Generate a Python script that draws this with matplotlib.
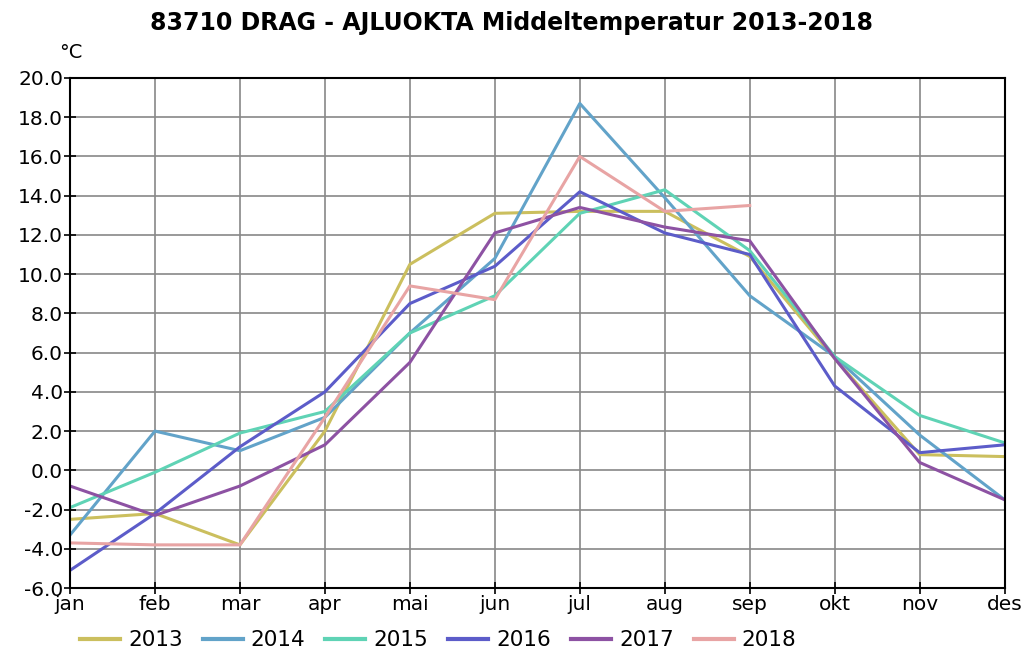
import matplotlib
matplotlib.use("Agg")
import matplotlib.pyplot as plt
from matplotlib.ticker import FormatStrFormatter

months = ['jan', 'feb', 'mar', 'apr', 'mai', 'jun', 'jul', 'aug', 'sep', 'okt', 'nov', 'des']

t2013 = [-2.5, -2.2, -3.8, 2.0, 10.5, 13.1, 13.2, 13.2, 10.9, 5.7, 0.8, 0.7]
t2014 = [-3.3, 2.0, 1.0, 2.7, 7.0, 10.8, 18.7, 13.9, 8.9, 5.8, 1.8, -1.5]
t2015 = [-1.9, -0.1, 1.9, 3.0, 7.0, 8.9, 13.1, 14.3, 11.2, 5.8, 2.8, 1.4]
t2016 = [-5.1, -2.2, 1.2, 4.0, 8.5, 10.4, 14.2, 12.1, 11.0, 4.3, 0.9, 1.3]
t2017 = [-0.8, -2.3, -0.8, 1.3, 5.5, 12.1, 13.4, 12.4, 11.7, 5.7, 0.4, -1.5]
t2018 = [-3.7, -3.8, -3.8, 2.7, 9.4, 8.7, 16.0, 13.2, 13.5]

series = [
    ('2013', t2013, '#cbbf5e'),
    ('2014', t2014, '#62a3c9'),
    ('2015', t2015, '#5fd3b5'),
    ('2016', t2016, '#5c5cc9'),
    ('2017', t2017, '#8d52a3'),
    ('2018', t2018, '#e8a4a4'),
]

fig = plt.figure(figsize=(10.22, 6.53), dpi=100)
ax = fig.add_axes([0.0685, 0.0995, 0.9145, 0.7811])

for label, vals, color in series:
    ax.plot(range(len(vals)), vals, color=color, linewidth=2.2, label=label)

ax.set_xlim(0, 11)
ax.set_ylim(-6, 20)
ax.set_xticks(range(12))
ax.set_xticklabels(months)
ax.set_yticks(range(-6, 21, 2))
ax.yaxis.set_major_formatter(FormatStrFormatter('%.1f'))
ax.tick_params(axis='both', direction='inout', length=8, width=1.2, labelsize=14.5, pad=1)
ax.grid(True, color='#888888', linewidth=1.2)
for s in ax.spines.values():
    s.set_linewidth(1.5)
    s.set_color('black')

fig.text(0.5, 0.965, '83710 DRAG - AJLUOKTA Middeltemperatur 2013-2018',
         ha='center', va='center', fontsize=17, fontweight='bold')
fig.text(0.058, 0.92, '°C', ha='left', va='center', fontsize=14)

ax.legend(loc='upper left', bbox_to_anchor=(0.0015, -0.066), ncol=6, frameon=False,
          fontsize=15.5, handlelength=1.86, handletextpad=0.37, columnspacing=0.93,
          borderaxespad=0)
leg = ax.get_legend()
for line in leg.get_lines():
    line.set_linewidth(3)

fig.savefig('out.png', dpi=100)
